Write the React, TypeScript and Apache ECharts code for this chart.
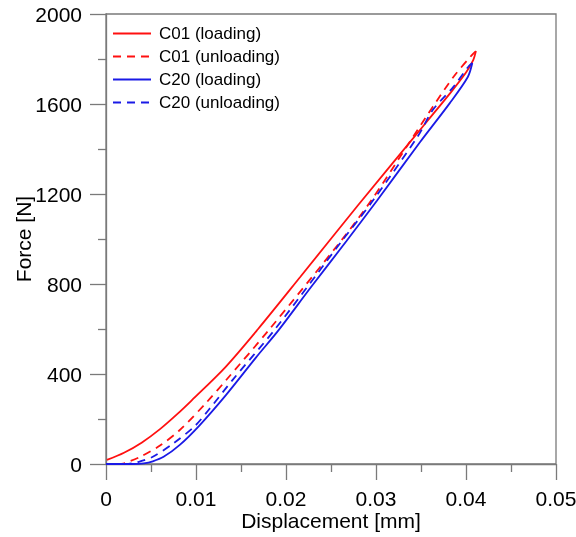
import React, { useEffect, useRef } from "react";
import * as echarts from "echarts";

// Displacement [mm] / Force [N]
const c01LoadX = [0.0001, 0.002, 0.004, 0.006, 0.008, 0.0095, 0.0133, 0.0169, 0.0216, 0.028, 0.0358, 0.0382, 0.04, 0.0408, 0.0411];
const c01LoadY = [18, 50, 96, 155, 225, 282, 432, 600, 832, 1150, 1529, 1646, 1740, 1795, 1835];

const c01UnloadX = [0.0411, 0.0406, 0.0386, 0.0363, 0.0341, 0.0295, 0.0262, 0.0181, 0.0135, 0.0112, 0.0082, 0.006, 0.0038, 0.0021, 0.0017];
const c01UnloadY = [1835, 1815, 1720, 1587, 1453, 1173, 996, 596, 380, 275, 151, 82, 32, 4, 0];

const c20LoadX = [0, 0.003, 0.0042, 0.0052, 0.0064, 0.0082, 0.0104, 0.0133, 0.0167, 0.0192, 0.0227, 0.0267, 0.0301, 0.0349, 0.0382, 0.0402, 0.0407];
const c20LoadY = [0, 0, 3, 12, 32, 85, 172, 305, 475, 596, 782, 990, 1170, 1431, 1604, 1720, 1782];

const c20UnloadX = [0.0407, 0.0403, 0.0386, 0.0363, 0.0347, 0.0297, 0.0263, 0.0188, 0.0141, 0.0114, 0.0099, 0.0075, 0.0052, 0.0035, 0.0025];
const c20UnloadY = [1782, 1768, 1676, 1573, 1460, 1173, 996, 600, 375, 240, 170, 92, 32, 8, 0];

const seriesNames = ["C01 (loading)", "C01 (unloading)", "C20 (loading)", "C20 (unloading)"];
const xTicks = [0, 0.01, 0.02, 0.03, 0.04, 0.05];
const yTicks = [0, 400, 800, 1200, 1600, 2000];

const RED = "#ff1010";
const BLUE = "#1a1ae6";
const AXIS = "#7a7a7a";
const FONT = "'Liberation Sans', Arial, sans-serif";

function pairs(xs: number[], ys: number[]) {
  return xs.map((x, i) => [x, ys[i]]);
}

export default function App() {
  const ref = useRef<HTMLDivElement>(null);
  useEffect(() => {
    if (!ref.current) return;
    const chart = echarts.init(ref.current, undefined, { renderer: "svg" });
    const mk = (name: string, xs: number[], ys: number[], color: string, dashed: boolean) => ({
      name,
      type: "line",
      data: pairs(xs, ys),
      showSymbol: false,
      symbol: "none",
      smooth: 0.3,
      lineStyle: { color, width: 1.8, type: dashed ? [8, 6] : "solid" },
      itemStyle: { color },
    });
    chart.setOption({
      animation: false,
      textStyle: { fontFamily: FONT },
      grid: {
        left: 106,
        right: 20,
        top: 14,
        bottom: 73,
        show: true,
        borderColor: AXIS,
        borderWidth: 1.3,
        containLabel: false,
        outerBoundsMode: "none",
      },
      legend: {
        data: seriesNames,
        left: 107,
        top: 20,
        orient: "vertical",
        itemWidth: 38,
        itemHeight: 14,
        itemGap: 6,
        itemStyle: { opacity: 0 },
        textStyle: { fontSize: 17, color: "#000", fontFamily: FONT, padding: [0, 0, 0, 3] },
      },
      xAxis: {
        type: "value",
        min: 0,
        max: 0.05,
        interval: 0.01,
        name: "Displacement [mm]",
        nameLocation: "middle",
        nameGap: 46,
        nameMoveOverlap: false,
        nameTextStyle: { fontSize: 21, color: "#000", fontFamily: FONT },
        axisLine: { show: true, lineStyle: { color: AXIS, width: 1.3 } },
        axisTick: { show: true, length: 16, lineStyle: { color: AXIS, width: 1.3 } },
        minorTick: { show: true, splitNumber: 2, length: 8, lineStyle: { color: AXIS, width: 1.3 } },
        splitLine: { show: false },
        axisLabel: {
          fontSize: 21,
          color: "#000",
          fontFamily: FONT,
          margin: 24,
          formatter: (v: number) => {
            const t = xTicks.find((k) => Math.abs(k - v) < 1e-9);
            return t === undefined ? "" : String(t);
          },
        },
      },
      yAxis: {
        type: "value",
        min: 0,
        max: 2000,
        interval: 400,
        name: "Force [N]",
        nameLocation: "middle",
        nameGap: 72,
        nameMoveOverlap: false,
        nameTextStyle: { fontSize: 21, color: "#000", fontFamily: FONT },
        axisLine: { show: true, lineStyle: { color: AXIS, width: 1.3 } },
        axisTick: { show: true, length: 16, lineStyle: { color: AXIS, width: 1.3 } },
        minorTick: { show: true, splitNumber: 2, length: 8, lineStyle: { color: AXIS, width: 1.3 } },
        splitLine: { show: false },
        axisLabel: {
          fontSize: 21,
          color: "#000",
          fontFamily: FONT,
          margin: 24,
          formatter: (v: number) => (yTicks.includes(v) ? String(v) : ""),
        },
      },
      series: [
        mk(seriesNames[0], c01LoadX, c01LoadY, RED, false),
        mk(seriesNames[1], c01UnloadX, c01UnloadY, RED, true),
        mk(seriesNames[2], c20LoadX, c20LoadY, BLUE, false),
        mk(seriesNames[3], c20UnloadX, c20UnloadY, BLUE, true),
      ],
    });
    return () => chart.dispose();
  }, []);
  return <div ref={ref} style={{ position: "fixed", left: 0, top: 0, width: 576, height: 537 }} />;
}
